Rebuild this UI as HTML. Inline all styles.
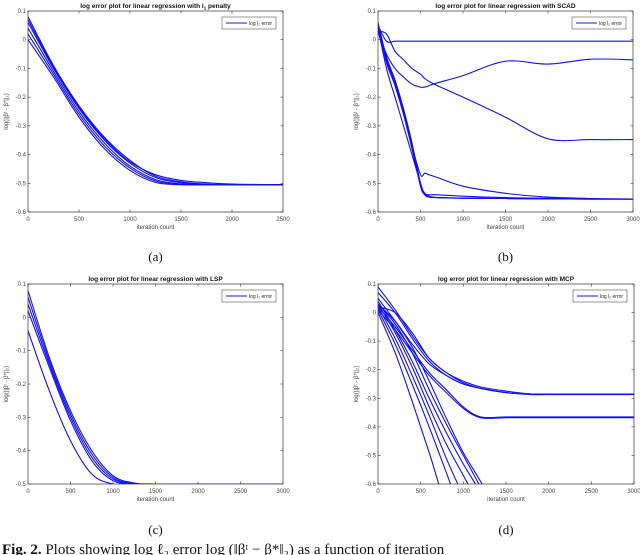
<!DOCTYPE html>
<html><head><meta charset="utf-8"><style>
html,body{margin:0;padding:0;background:#fff;width:640px;height:555px;overflow:hidden}
svg{display:block}
text{font-family:"Liberation Sans",sans-serif}
.cap{font-family:"Liberation Serif",serif}
</style></head><body>
<svg id="fig" width="640" height="555" viewBox="0 0 640 555" xmlns="http://www.w3.org/2000/svg"></svg>
<script>
// ---- Panel (a): L1 penalty ----
const aTitle = "log error plot for linear regression with l";
const aX = [0,250,500,750,1000,1250,1500,1750,2000,2500];
const aY1 = [0.08,-0.09,-0.23,-0.34,-0.42,-0.475,-0.495,-0.503,-0.505,-0.505];
const aY2 = [0.06,-0.10,-0.24,-0.35,-0.43,-0.48,-0.498,-0.504,-0.505,-0.505];
const aY3 = [0.04,-0.11,-0.25,-0.36,-0.44,-0.487,-0.502,-0.505,-0.505,-0.505];
const aY4 = [0.02,-0.12,-0.26,-0.37,-0.447,-0.492,-0.504,-0.505,-0.505,-0.505];
const aY5 = [0.00,-0.13,-0.27,-0.38,-0.455,-0.497,-0.505,-0.505,-0.505,-0.505];
const aY6 = [0.07,-0.095,-0.235,-0.345,-0.425,-0.47,-0.49,-0.498,-0.503,-0.505];
// ---- Panel (b): SCAD ----
const bX = [0,100,200,300,400,500,550,600,700,1000,1500,2000,2500,3000];
const bY1 = [0.05,-0.005,-0.005,-0.005,-0.005,-0.005,-0.005,-0.005,-0.005,-0.005,-0.005,-0.005,-0.005,-0.005];
const bY2 = [0.06,-0.06,-0.14,-0.24,-0.36,-0.50,-0.535,-0.545,-0.55,-0.552,-0.553,-0.554,-0.555,-0.555];
const bY3 = [0.04,-0.08,-0.16,-0.26,-0.38,-0.51,-0.54,-0.548,-0.55,-0.552,-0.553,-0.554,-0.555,-0.555];
const bY4 = [0.03,-0.07,-0.15,-0.25,-0.37,-0.47,-0.465,-0.47,-0.48,-0.51,-0.535,-0.548,-0.553,-0.555];
const bY5 = [0.05,-0.07,-0.15,-0.25,-0.37,-0.50,-0.535,-0.54,-0.54,-0.545,-0.55,-0.552,-0.554,-0.555];
const bY6 = [0.04,-0.10,-0.20,-0.30,-0.40,-0.50,-0.54,-0.548,-0.55,-0.552,-0.553,-0.554,-0.555,-0.555];
const bY7 = [0.03,-0.05,-0.10,-0.13,-0.155,-0.165,-0.165,-0.16,-0.15,-0.125,-0.075,-0.085,-0.068,-0.07];
const bY8 = [0.03,0.02,-0.04,-0.07,-0.10,-0.12,-0.135,-0.145,-0.16,-0.20,-0.27,-0.345,-0.348,-0.348];
// ---- Panel (c): LSP ----
const cX = [0,250,500,750,1000,1250,1500,2000,3000];
const cY1 = [0.08,-0.12,-0.28,-0.40,-0.475,-0.497,-0.5,-0.5,-0.5];
const cY2 = [0.06,-0.13,-0.29,-0.41,-0.48,-0.499,-0.5,-0.5,-0.5];
const cY3 = [0.04,-0.14,-0.30,-0.42,-0.485,-0.5,-0.5,-0.5,-0.5];
const cY4 = [0.02,-0.15,-0.31,-0.43,-0.49,-0.5,-0.5,-0.5,-0.5];
const cY5 = [-0.04,-0.22,-0.37,-0.47,-0.5,-0.5,-0.5,-0.5,-0.5];
// ---- Panel (d): MCP ----
const dX = [0,200,400,600,800,1000,1200,1500,1800,2000,3000];
const dY1 = [0.09,0.01,-0.08,-0.16,-0.21,-0.24,-0.26,-0.275,-0.285,-0.285,-0.285];
const dY2 = [0.07,0.00,-0.09,-0.17,-0.22,-0.25,-0.265,-0.28,-0.285,-0.285,-0.285];
const dY3 = [0.02,0.00,-0.07,-0.16,-0.21,-0.245,-0.265,-0.28,-0.287,-0.287,-0.287];
const dY4 = [0.03,-0.03,-0.11,-0.18,-0.22,-0.25,-0.265,-0.28,-0.285,-0.285,-0.285];
const dY5 = [0.02,-0.05,-0.13,-0.21,-0.27,-0.33,-0.365,-0.365,-0.365,-0.365,-0.365];
const dY6 = [0.01,-0.06,-0.14,-0.22,-0.28,-0.335,-0.368,-0.368,-0.368,-0.368,-0.368];
const dY7 = [0.0,-0.14,-0.31,-0.49,-0.68,-0.8,-0.8,-0.8,-0.8,-0.8,-0.8];
const dY8 = [0.01,-0.11,-0.25,-0.40,-0.56,-0.72,-0.85,-0.9,-0.9,-0.9,-0.9];
const dY9 = [0.02,-0.09,-0.22,-0.36,-0.51,-0.64,-0.75,-0.9,-0.9,-0.9,-0.9];
const dY10 = [0.03,-0.07,-0.19,-0.33,-0.46,-0.57,-0.68,-0.85,-0.9,-0.9,-0.9];
const dY11 = [0.04,-0.06,-0.17,-0.30,-0.42,-0.53,-0.63,-0.8,-0.9,-0.9,-0.9];
const dY12 = [0.03,-0.04,-0.14,-0.27,-0.39,-0.50,-0.61,-0.78,-0.9,-0.9,-0.9];
const dY13 = [0.05,-0.03,-0.12,-0.24,-0.37,-0.49,-0.59,-0.75,-0.9,-0.9,-0.9];

const NS = "http://www.w3.org/2000/svg";
const svg = document.getElementById('fig');
function mk(tag, attrs, parent){
  const e = document.createElementNS(NS, tag);
  for (const k in attrs) e.setAttribute(k, attrs[k]);
  (parent||svg).appendChild(e);
  return e;
}
function smooth(pts){
  let d = 'M' + pts[0][0].toFixed(1) + ',' + pts[0][1].toFixed(1);
  for (let i = 0; i < pts.length-1; i++){
    const p0 = pts[Math.max(0,i-1)], p1 = pts[i], p2 = pts[i+1], p3 = pts[Math.min(pts.length-1,i+2)];
    const c1 = [p1[0]+(p2[0]-p0[0])/6, p1[1]+(p2[1]-p0[1])/6];
    const c2 = [p2[0]-(p3[0]-p1[0])/6, p2[1]-(p3[1]-p1[1])/6];
    d += ' C' + c1[0].toFixed(1)+','+c1[1].toFixed(1)+' '+c2[0].toFixed(1)+','+c2[1].toFixed(1)+' '+p2[0].toFixed(1)+','+p2[1].toFixed(1);
  }
  return d;
}
let clipId = 0;
function panel(key, box, xmax, xticks, ylo, yhi, yticks, title, sub, xs, series, label, labelY){
  const g = mk('g', {});
  
  
  const [L,T,R,B] = box;
  const sx = v => L + (v/xmax)*(R-L);
  const sy = v => B - (v-ylo)/(yhi-ylo)*(B-T);
  const id = 'clip' + (clipId++);
  const cp = mk('clipPath', {id:id}, g);
  mk('rect', {x:L, y:T, width:R-L, height:B-T}, cp);
  const tg = mk('g', {}, g);
  
  
  xticks.forEach(t => {
    mk('line', {x1:sx(t), x2:sx(t), y1:B, y2:B-2.5, stroke:'#333', 'stroke-width':0.6}, tg);
    mk('line', {x1:sx(t), x2:sx(t), y1:T, y2:T+2.5, stroke:'#333', 'stroke-width':0.6}, tg);
    const tx = mk('text', {x:sx(t), y:B+9, 'font-size':6, fill:'#444', 'text-anchor':'middle'}, tg);
    tx.textContent = t;
  });
  yticks.forEach(t => {
    mk('line', {x1:L, x2:L+2.5, y1:sy(t), y2:sy(t), stroke:'#333', 'stroke-width':0.6}, tg);
    mk('line', {x1:R, x2:R-2.5, y1:sy(t), y2:sy(t), stroke:'#333', 'stroke-width':0.6}, tg);
    const tx = mk('text', {x:L-2, y:sy(t)+2, 'font-size':6, fill:'#444', 'text-anchor':'end'}, tg);
    tx.textContent = t;
  });
  const sg = mk('g', {'clip-path':'url(#'+id+')'}, g);
  series.forEach((ys, i) => {
    const d = smooth(ys.map((v,j) => [sx(xs[j]), sy(v)]));
    const p = mk('path', {d:d, fill:'none', stroke:'#1010ee', 'stroke-width':1.1, 'stroke-linejoin':'round'}, sg);
    
    
  });
  mk('rect', {x:L, y:T, width:R-L, height:B-T, fill:'none', stroke:'#333', 'stroke-width':0.7}, g);
  const tt = mk('text', {x:(L+R)/2, y:T-3, 'font-size':6.5, 'font-weight':'bold', 'text-anchor':'middle', fill:'#111'}, g);
  
  
  tt.textContent = title;
  if (sub){ const s = mk('tspan', {'font-size':4.5, dy:1.5}, tt); s.textContent = sub; const s2 = mk('tspan',{dy:-1.5},tt); s2.textContent = ' penalty'; }
  const xl = mk('text', {x:(L+R)/2, y:B+17, 'font-size':6, fill:'#444', 'text-anchor':'middle'}, g);
  
  
  xl.textContent = 'iteration count';
  const yl = mk('text', {x:0, y:0, 'font-size':6, fill:'#444', 'text-anchor':'middle', transform:'translate('+(L-20)+','+((T+B)/2)+') rotate(-90)'}, g);
  
  
  yl.textContent = 'log(||\u03B2\u1D57 - \u03B2*||\u2082)';
  const lg = mk('g', {}, g);
  
  
  mk('rect', {x:R-61, y:T+6, width:54, height:12, fill:'#fff', stroke:'#333', 'stroke-width':0.5}, lg);
  mk('line', {x1:R-57, x2:R-36, y1:T+12, y2:T+12, stroke:'#1010ee', 'stroke-width':1}, lg);
  const lt = mk('text', {x:R-34, y:T+14, 'font-size':5, fill:'#222'}, lg);
  lt.textContent = 'log l\u2082 error';
  const cl = mk('text', {x:(L+R)/2, y:labelY, 'font-size':13, 'text-anchor':'middle', fill:'#111', class:'cap'}, g);
  
  
  cl.textContent = label;
}
const yt = [0.1,0,-0.1,-0.2,-0.3,-0.4,-0.5,-0.6];
panel('a',[28,11,283,212],2500,[0,500,1000,1500,2000,2500],-0.6,0.1,yt,aTitle,'1',aX,[aY1,aY2,aY3,aY4,aY5,aY6],'(a)',261);
panel('b',[378,11,633,212],3000,[0,500,1000,1500,2000,2500,3000],-0.6,0.1,yt,'log error plot for linear regression with SCAD',null,bX,[bY1,bY2,bY3,bY4,bY5,bY6,bY7,bY8],'(b)',261);
panel('c',[28,284,283,484],3000,[0,500,1000,1500,2000,2500,3000],-0.5,0.1,[0.1,0,-0.1,-0.2,-0.3,-0.4,-0.5],'log error plot for linear regression with LSP',null,cX,[cY1,cY2,cY3,cY4,cY5],'(c)',534);
panel('d',[378,284,634,484],3000,[0,500,1000,1500,2000,2500,3000],-0.6,0.1,yt,'log error plot for linear regression with MCP',null,dX,[dY1,dY2,dY3,dY4,dY5,dY6,dY7,dY8,dY9,dY10,dY11,dY12,dY13],'(d)',534);
const cap = mk('text', {x:2, y:554, 'font-size':15, fill:'#111', class:'cap'});


cap.innerHTML = '<tspan font-weight="bold">Fig. 2.</tspan> Plots showing log \u2113\u2082 error log (\u2016\u03B2\u1D57 \u2212 \u03B2*\u2016\u2082) as a function of iteration';
</script>
</body></html>
